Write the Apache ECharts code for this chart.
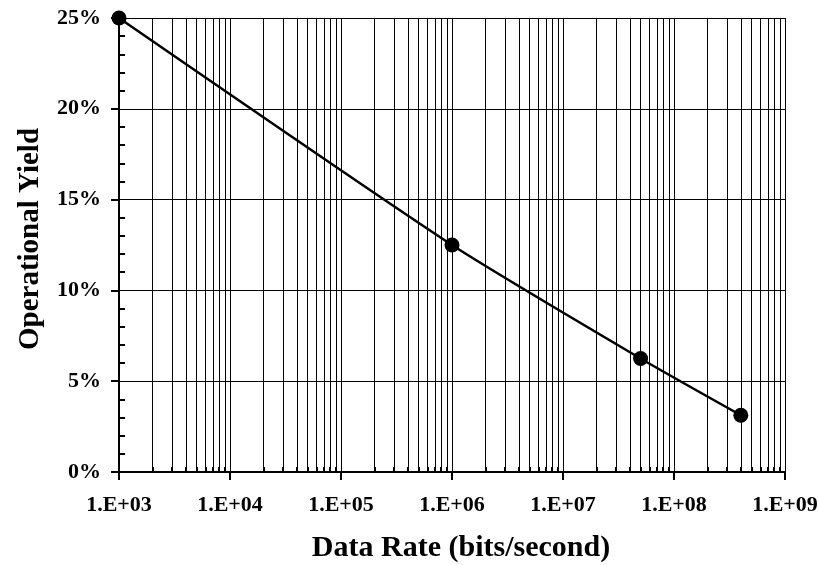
<!DOCTYPE html>
<html>
<head>
<meta charset="utf-8">
<script src="https://cdn.jsdelivr.net/npm/echarts@6/dist/echarts.min.js"></script>
<style>
  html, body { margin: 0; padding: 0; background: #fff; }
  #chart { width: 819px; height: 565px; }
</style>
</head>
<body>
<div id="chart"></div>
<script>
// data rate (bits/second) and operational yield (%)
var dataRates = [1e3, 1e6, 5e7, 4e8];
var yieldPct = [25, 12.5, 6.25, 3.125];
var xMin = 1e3, xMax = 1e9;
var yMin = 0, yMax = 25, yStep = 5;

var font = "'Liberation Serif', 'Times New Roman', serif";

var chart = echarts.init(document.getElementById("chart"));

chart.setOption({
  animation: false,
  grid: { left: 119, right: 34, top: 18, bottom: 93, containLabel: false, outerBoundsMode: "none" },
  xAxis: [
    {
      type: "log",
      logBase: 10,
      min: xMin,
      max: xMax,
      name: "Data Rate (bits/second)",
      nameLocation: "middle",
      nameGap: 61,
      nameTextStyle: { fontFamily: font, fontWeight: "bold", fontSize: 30, color: "#000", padding: [0, 0, 0, 18] },
      axisLine: { lineStyle: { color: "#000", width: 2 } },
      axisTick: { show: true, length: 8, lineStyle: { color: "#000", width: 2 } },
      minorTick: { show: false, splitNumber: 9 },
      splitLine: { show: true, lineStyle: { color: "#000", width: 1 } },
      minorSplitLine: { show: true, lineStyle: { color: "#000", width: 1 } },
      axisLabel: {
        margin: 22,
        fontFamily: font,
        fontWeight: "bold",
        fontSize: 22,
        color: "#000",
        formatter: function (v) {
          var e = Math.round(Math.log10(v));
          return "1.E+" + (e < 10 ? "0" + e : e);
        }
      }
    },
    {
      // only the inner minor ticks
      type: "log",
      logBase: 10,
      min: xMin,
      max: xMax,
      position: "bottom",
      axisLine: { show: false },
      axisTick: { show: false, inside: true },
      minorTick: { show: true, splitNumber: 9, length: 5, lineStyle: { color: "#000", width: 2 } },
      splitLine: { show: false },
      axisLabel: { show: false }
    }
  ],
  yAxis: [
    {
      type: "value",
      min: yMin,
      max: yMax,
      interval: yStep,
      name: "Operational Yield",
      nameLocation: "middle",
      nameGap: 74,
      nameTextStyle: { fontFamily: font, fontWeight: "bold", fontSize: 29, color: "#000", padding: [0, 0, 0, 12] },
      axisLine: { show: true, lineStyle: { color: "#000", width: 2 } },
      axisTick: { show: true, length: 8, lineStyle: { color: "#000", width: 2 } },
      minorTick: { show: false },
      splitLine: { show: true, lineStyle: { color: "#000", width: 1 } },
      axisLabel: {
        margin: 18,
        fontFamily: font,
        fontWeight: "bold",
        fontSize: 22,
        color: "#000",
        formatter: function (v) { return v + "%"; }
      }
    },
    {
      type: "value",
      min: yMin,
      max: yMax,
      interval: yStep,
      position: "left",
      axisLine: { show: false },
      axisTick: { show: false, inside: true },
      minorTick: { show: true, splitNumber: 5, length: 6, lineStyle: { color: "#000", width: 2 } },
      splitLine: { show: false },
      axisLabel: { show: false }
    }
  ],
  series: [
    {
      type: "line",
      data: dataRates.map(function (x, i) { return [x, yieldPct[i]]; }),
      smooth: 0.2,
      symbol: "circle",
      symbolSize: 15,
      itemStyle: { color: "#000" },
      lineStyle: { color: "#000", width: 2.5 },
      clip: false
    }
  ]
});
</script>
</body>
</html>
